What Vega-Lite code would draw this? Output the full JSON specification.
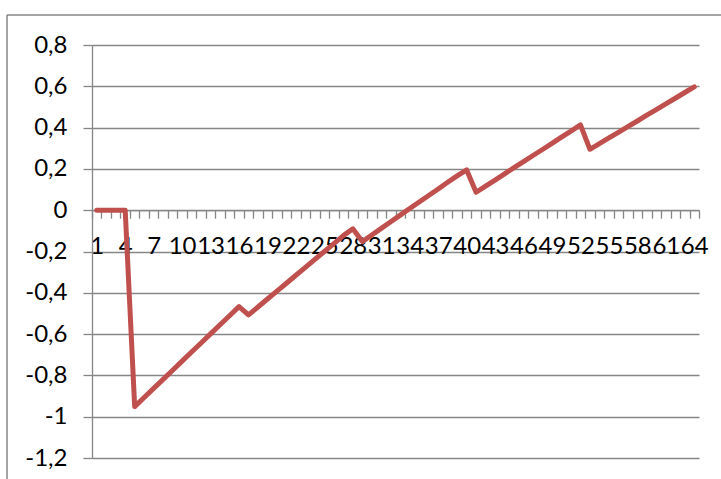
{
  "$schema": "https://vega.github.io/schema/vega-lite/v6.json",
  "width": 714,
  "height": 464,
  "autosize": {"type": "none"},
  "padding": {"left": 7, "top": 15, "right": 0, "bottom": 0},
  "background": "white",
  "config": {
    "view": {"stroke": "#868686", "strokeWidth": 1.5, "strokeDash": [714, 1178, 464, 0]}
  },
  "data": {
    "values": [
      {"i": 1, "v": 0}, {"i": 2, "v": 0}, {"i": 3, "v": 0}, {"i": 4, "v": 0},
      {"i": 5, "v": -0.951}, {"i": 6, "v": -0.907}, {"i": 7, "v": -0.863}, {"i": 8, "v": -0.819},
      {"i": 9, "v": -0.775}, {"i": 10, "v": -0.731}, {"i": 11, "v": -0.687}, {"i": 12, "v": -0.643},
      {"i": 13, "v": -0.599}, {"i": 14, "v": -0.555}, {"i": 15, "v": -0.511}, {"i": 16, "v": -0.467},
      {"i": 17, "v": -0.507}, {"i": 18, "v": -0.469}, {"i": 19, "v": -0.43}, {"i": 20, "v": -0.392},
      {"i": 21, "v": -0.354}, {"i": 22, "v": -0.315}, {"i": 23, "v": -0.277}, {"i": 24, "v": -0.238},
      {"i": 25, "v": -0.2}, {"i": 26, "v": -0.162}, {"i": 27, "v": -0.123}, {"i": 28, "v": -0.09},
      {"i": 29, "v": -0.152}, {"i": 30, "v": -0.12}, {"i": 31, "v": -0.088}, {"i": 32, "v": -0.056},
      {"i": 33, "v": -0.024}, {"i": 34, "v": 0.008}, {"i": 35, "v": 0.04}, {"i": 36, "v": 0.071},
      {"i": 37, "v": 0.103}, {"i": 38, "v": 0.135}, {"i": 39, "v": 0.166}, {"i": 40, "v": 0.195},
      {"i": 41, "v": 0.087}, {"i": 42, "v": 0.117}, {"i": 43, "v": 0.146}, {"i": 44, "v": 0.176},
      {"i": 45, "v": 0.206}, {"i": 46, "v": 0.235}, {"i": 47, "v": 0.265}, {"i": 48, "v": 0.294},
      {"i": 49, "v": 0.324}, {"i": 50, "v": 0.354}, {"i": 51, "v": 0.383}, {"i": 52, "v": 0.413},
      {"i": 53, "v": 0.295}, {"i": 54, "v": 0.322}, {"i": 55, "v": 0.35}, {"i": 56, "v": 0.377},
      {"i": 57, "v": 0.405}, {"i": 58, "v": 0.432}, {"i": 59, "v": 0.46}, {"i": 60, "v": 0.487},
      {"i": 61, "v": 0.515}, {"i": 62, "v": 0.542}, {"i": 63, "v": 0.57}, {"i": 64, "v": 0.597}
    ]
  },
  "mark": {"type": "line", "color": "#C0504D", "strokeWidth": 5, "strokeJoin": "round", "strokeCap": "round"},
  "encoding": {
    "x": {
      "field": "i",
      "type": "ordinal",
      "sort": "ascending",
      "bandPosition": 0.5,
      "scale": {"type": "band", "range": [85, 692], "paddingInner": 0, "paddingOuter": 0},
      "axis": {
        "orient": "bottom",
        "offset": -268.8,
        "title": null,
        "grid": false,
        "labelAngle": 0,
        "labelOverlap": false,
        "labelBound": false,
        "labelFlush": false,
        "labelExpr": "(datum.value - 1) % 3 == 0 ? datum.label : ''",
        "tickBand": "extent",
        "tickSize": 8,
        "tickColor": "#868686",
        "tickWidth": 1.3,
        "domainColor": "#868686",
        "domainWidth": 1.3,
        "labelPadding": 16,
        "labelFont": "Lato",
        "labelFontSize": 24,
        "labelColor": "#000000"
      }
    },
    "y": {
      "field": "v",
      "type": "quantitative",
      "scale": {"domain": [-1.2, 0.8], "range": [443, 30], "nice": false, "zero": false},
      "axis": {
        "orient": "left",
        "offset": -85,
        "title": null,
        "values": [-1.2, -1, -0.8, -0.6, -0.4, -0.2, 0, 0.2, 0.4, 0.6, 0.8],
        "labelExpr": "replace(toString(datum.value), '.', ',')",
        "grid": true,
        "gridColor": "#868686",
        "gridWidth": 1.3,
        "domainColor": "#868686",
        "domainWidth": 1.3,
        "tickColor": "#868686",
        "tickWidth": 1.3,
        "tickSize": 9,
        "labelPadding": 16,
        "labelFont": "Lato",
        "labelFontSize": 24,
        "labelColor": "#000000"
      }
    }
  }
}
